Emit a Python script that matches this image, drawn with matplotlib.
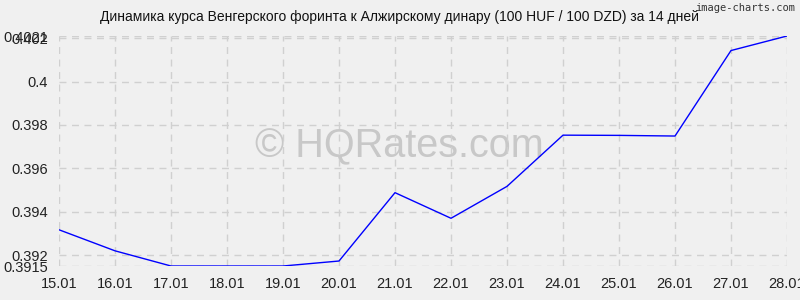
import matplotlib
matplotlib.use("Agg")
import matplotlib.pyplot as plt

dates = ["15.01", "16.01", "17.01", "18.01", "19.01", "20.01", "21.01",
         "22.01", "23.01", "24.01", "25.01", "26.01", "27.01", "28.01"]
rates = [0.39317, 0.3922, 0.3915, 0.3915, 0.3915, 0.39173, 0.39488,
         0.3937, 0.39517, 0.39753, 0.39752, 0.39749, 0.40143, 0.4021]
yticks = [0.3915, 0.392, 0.394, 0.396, 0.398, 0.4, 0.402, 0.4021]
ytick_labels = ["0.3915", "0.392", "0.394", "0.396", "0.398", "0.4", "0.402", "0.4021"]
title = "Динамика курса Венгерского форинта к Алжирскому динару (100 HUF / 100 DZD) за 14 дней"

plt.rcParams['font.family'] = ['Liberation Sans', 'DejaVu Sans']
bg = "#f0f0f0"
fig = plt.figure(figsize=(8, 3), dpi=100, facecolor=bg)
ax = fig.add_axes([0.07375, 0.1133, 0.91, 0.7667], facecolor=bg)

x = list(range(len(dates)))
ax.plot(x, rates, color="#0000ff", linewidth=1.0)
ax.set_xlim(0, len(dates) - 1)
ax.set_ylim(0.3915, 0.4021)
ax.set_xticks(x)
ax.set_xticklabels(dates, fontsize=10.5)
ax.set_yticks(yticks)
ax.set_yticklabels(ytick_labels, fontsize=10.5)
ax.tick_params(length=0, pad=8, colors="#222222")
ax.grid(True, color="#d0d0d0", linestyle=(0, (5, 4)), linewidth=1.0)
for s in ax.spines.values():
    s.set_visible(False)

fig.text(0.5, 0.943, title, ha="center", va="center", fontsize=10, color="#111111")
fig.text(0.994, 0.972, "image-charts.com", ha="right", va="center", fontsize=7.5,
         family="DejaVu Sans Mono", color="#333333")
ax.text(0.467, 0.52, "© HQRates.com", transform=ax.transAxes, ha="center", va="center",
        fontsize=28.5, color="#c8c8c8", zorder=0)

fig.savefig("out.png", dpi=100, facecolor=bg)
